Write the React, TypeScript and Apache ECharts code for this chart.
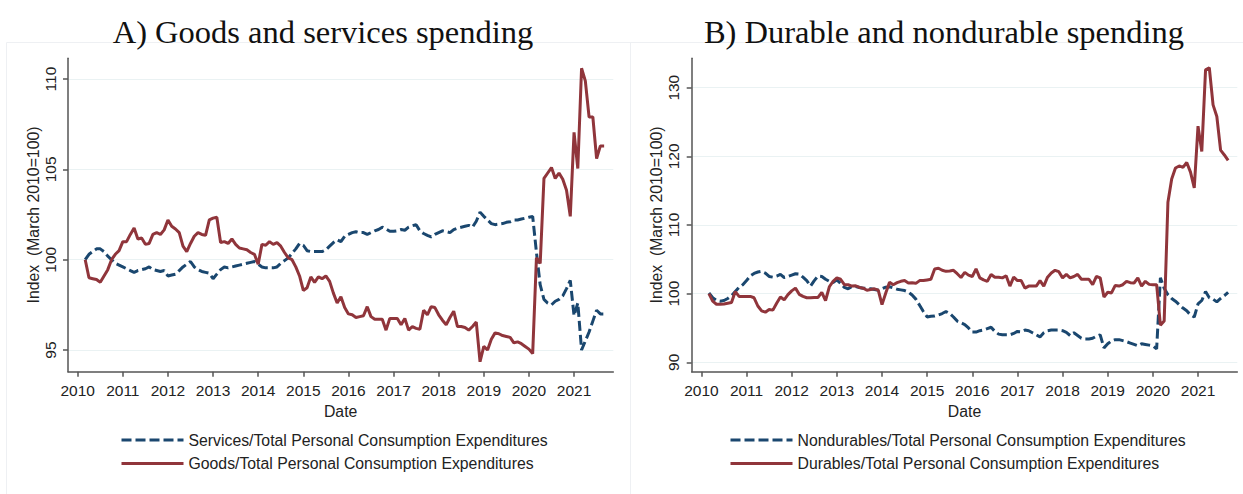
import React, { useEffect, useRef } from "react";
import * as echarts from "echarts";

// Monthly data, March 2010 to September 2021 (index, March 2010 = 100)
const START_YEAR = 2010;
const START_MONTH = 3;

const yearTicks = [2010, 2011, 2012, 2013, 2014, 2015, 2016, 2017, 2018, 2019, 2020, 2021];
const leftYTicks = [95, 100, 105, 110];
const rightYTicks = [90, 100, 110, 120, 130];

const services = [
  100.0, 100.3, 100.45, 100.6, 100.6, 100.45, 100.2, 100.0, 99.8, 99.7,
  99.6, 99.5, 99.4, 99.3, 99.4, 99.45, 99.5, 99.6, 99.45, 99.4, 99.35, 99.4,
  99.1, 99.15, 99.2, 99.4, 99.6, 99.75, 99.9, 99.6, 99.45, 99.35, 99.3, 99.25,
  98.95, 99.2, 99.45, 99.6, 99.55, 99.6, 99.65, 99.7, 99.75, 99.8, 99.85, 99.9,
  99.75, 99.6, 99.55, 99.55, 99.55, 99.6, 99.8, 99.95, 100.1, 100.35, 100.6, 100.9,
  100.8, 100.5, 100.45, 100.45, 100.45, 100.45, 100.55, 100.75, 100.95, 101.1, 101.0, 101.3,
  101.4, 101.5, 101.55, 101.5, 101.5, 101.4, 101.5, 101.6, 101.67, 101.8, 101.7, 101.57,
  101.57, 101.6, 101.67, 101.63, 101.8, 101.88, 101.94, 101.6, 101.45, 101.35, 101.26, 101.4,
  101.5, 101.6, 101.55, 101.5, 101.67, 101.75, 101.8, 101.85, 101.9, 101.8, 102.13, 102.63,
  102.4, 102.2, 102.0, 101.94, 101.97, 102.0, 102.07, 102.1, 102.2, 102.2, 102.25, 102.3,
  102.35, 102.4, 100.4, 98.6, 97.8, 97.6, 97.5, 97.7, 97.8, 98.0, 98.4, 98.85,
  96.9, 97.6, 95.0, 95.5, 96.0, 96.6, 97.2, 97.0, 97.0,
];

const goods = [
  100.0, 99.0, 98.95, 98.9, 98.75, 99.1, 99.45, 100.0, 100.3, 100.5,
  101.0, 101.0, 101.4, 101.75, 101.15, 101.2, 100.85, 100.9, 101.4, 101.5, 101.4, 101.65,
  102.2, 101.85, 101.7, 101.5, 100.75, 100.45, 100.9, 101.3, 101.5, 101.4, 101.35, 102.2,
  102.3, 102.35, 100.95, 101.0, 100.9, 101.15, 100.85, 100.65, 100.6, 100.55, 100.4, 100.3,
  99.75, 100.85, 100.8, 101.0, 100.85, 100.95, 100.75, 100.4, 100.1, 100.0, 99.6, 99.1,
  98.3, 98.45, 99.05, 98.75, 99.05, 98.95, 99.1, 98.8, 98.15, 97.6, 97.95, 97.35,
  97.0, 96.95, 96.8, 96.85, 96.9, 97.4, 96.85, 96.7, 96.7, 96.7, 96.1, 96.75,
  96.75, 96.75, 96.4, 96.75, 96.1, 96.3, 96.2, 96.15, 97.2, 96.95, 97.4, 97.35,
  96.95, 96.65, 96.4, 96.8, 97.15, 96.3, 96.3, 96.25, 96.1, 96.3, 96.55, 94.35,
  95.2, 95.0, 95.6, 95.95, 95.9, 95.8, 95.75, 95.7, 95.4, 95.45, 95.35, 95.2,
  95.05, 94.8, 100.1, 99.8, 104.5, 104.8, 105.1, 104.5, 104.8, 104.45, 103.85, 102.4,
  107.05, 105.05, 110.6, 109.9, 107.9, 107.9, 105.6, 106.3, 106.3,
];

const nondurables = [
  100.1, 99.4, 99.0, 98.9, 99.0, 99.3, 99.7, 100.3, 100.9, 101.3,
  101.9, 102.6, 102.95, 103.15, 103.25, 103.0, 102.5, 102.4, 102.55, 102.8, 102.35, 102.5,
  102.7, 102.9, 102.85, 102.4, 101.9, 101.1, 101.9, 102.55, 102.5, 102.1, 101.8, 101.6,
  102.0, 101.5, 100.9, 100.7, 101.05, 101.05, 100.9, 100.8, 100.75, 100.7, 100.6, 100.5,
  100.7, 100.95, 101.0, 100.85, 100.65, 100.55, 100.45, 100.25, 99.8, 99.2, 98.3, 97.4,
  96.6, 96.7, 96.75, 96.9, 97.1, 97.4, 97.1, 96.6, 96.0, 95.75, 95.5, 95.0,
  94.4, 94.4, 94.6, 94.7, 94.9, 95.1, 94.5, 94.1, 94.0, 94.0, 94.0, 94.2,
  94.5, 94.45, 94.7, 94.6, 94.3, 94.0, 93.7, 94.3, 94.6, 94.7, 94.7, 94.7,
  94.6, 94.35, 93.9, 94.3, 93.9, 93.5, 93.4, 93.4, 93.5, 93.8, 94.0, 92.1,
  92.7, 93.1, 93.3, 93.3, 93.15, 93.0, 92.8, 92.6, 92.4, 92.7, 92.6, 92.5,
  92.4, 91.95, 102.3, 100.8, 99.85, 99.3, 98.9, 98.4, 97.9, 97.5, 96.9, 96.6,
  98.5, 99.0, 100.3, 99.4, 99.2, 98.8, 99.3, 99.7, 100.2,
];

const durables = [
  100.0, 98.9, 98.45, 98.45, 98.5, 98.6, 98.7, 100.3, 99.6, 99.6,
  99.6, 99.6, 99.4, 98.2, 97.5, 97.3, 97.7, 97.6, 98.6, 99.5, 99.1, 99.85,
  100.4, 100.8, 99.9, 99.6, 99.4, 99.4, 99.45, 99.45, 100.2, 99.0, 101.0, 101.8,
  102.3, 102.1, 101.3, 101.3, 101.1, 101.15, 100.9, 100.8, 100.5, 100.6, 100.7, 100.5,
  98.4, 100.1, 101.65, 101.3, 101.6, 101.8, 101.9, 101.55, 101.6, 101.5, 101.9, 101.9,
  102.0, 102.1, 103.6, 103.7, 103.4, 103.25, 103.3, 103.4, 102.9, 102.35, 103.1, 102.7,
  102.5, 103.6, 102.3, 102.0, 101.8, 102.8, 102.4, 102.4, 102.3, 102.6, 101.1, 102.4,
  101.9, 101.9, 100.8, 101.1, 101.1, 101.1, 101.9, 101.1, 102.4, 103.0, 103.4, 103.2,
  102.3, 102.8, 102.3, 102.5, 102.8, 102.1, 102.1, 102.1, 101.3, 102.5, 102.3, 99.5,
  100.2, 100.1, 101.2, 101.1, 101.3, 101.8, 101.6, 101.55, 102.3, 101.1, 101.8, 101.35,
  101.3, 101.3, 95.4, 96.0, 113.3, 116.7, 118.3, 118.6, 118.4, 119.1, 117.7, 115.4,
  124.4, 120.7, 132.6, 132.9, 127.5, 125.8, 120.9, 120.2, 119.4,
];

const NAVY = "#1a476f";
const MAROON = "#90353b";
const AXIS = "#555555";
const GRID = "#eaf2f3";
const TEXT = "#222222";
const SANS = "'Liberation Sans', Arial, sans-serif";
const SERIF = "'Liberation Serif', 'Times New Roman', serif";

function toPairs(values: number[]) {
  return values.map((v, i) => [START_YEAR + (START_MONTH - 1 + i) / 12, v]);
}

function xAxisDef(gridIndex: number) {
  return {
    type: "value",
    gridIndex,
    min: 2009.785,
    max: 2021.87,
    name: "Date",
    nameLocation: "middle",
    nameGap: 29,
    nameTextStyle: { color: TEXT, fontSize: 15.8, fontFamily: SANS },
    axisLine: { show: true, onZero: false, lineStyle: { color: AXIS, width: 1.5 } },
    axisTick: { show: true, length: 5, customValues: yearTicks, lineStyle: { color: AXIS, width: 1.5 } },
    axisLabel: {
      customValues: yearTicks,
      color: TEXT,
      fontSize: 15.5,
      fontFamily: SANS,
      margin: 11,
      formatter: (v: number) => String(Math.round(v)),
    },
    splitLine: { show: false },
  };
}

function yAxisDef(gridIndex: number, min: number, max: number, ticks: number[]) {
  return {
    type: "value",
    gridIndex,
    min,
    max,
    name: "Index  (March 2010=100)",
    nameLocation: "middle",
    nameRotate: 90,
    nameGap: 27,
    nameTextStyle: { color: TEXT, fontSize: 15.8, fontFamily: SANS },
    axisLine: { show: true, lineStyle: { color: AXIS, width: 1.5 } },
    axisTick: { show: true, length: 5, customValues: ticks, lineStyle: { color: AXIS, width: 1.5 } },
    axisLabel: {
      customValues: ticks,
      rotate: 90,
      color: TEXT,
      fontSize: 15.5,
      fontFamily: SANS,
      margin: 10,
    },
    splitLine: { show: true, lineStyle: { color: GRID, width: 1.2 } },
  };
}

function lineSeries(name: string, values: number[], idx: number, color: string, dashed: boolean) {
  return {
    type: "line",
    name,
    xAxisIndex: idx,
    yAxisIndex: idx,
    data: toPairs(values),
    symbol: "none",
    showSymbol: false,
    lineStyle: { color, width: 3, type: dashed ? [10, 4] : "solid" },
    itemStyle: { color },
    z: dashed ? 2 : 3,
  };
}

export default function App() {
  const ref = useRef<HTMLDivElement>(null);

  useEffect(() => {
    if (!ref.current) return;
    const chart = echarts.init(ref.current, undefined, { renderer: "svg" });
    const legendText = { color: TEXT, fontSize: 15.8, fontFamily: SANS };
    const legendCommon = {
      orient: "vertical",
      top: 432,
      padding: 0,
      itemWidth: 62,
      itemHeight: 14,
      itemGap: 7.5,
      textStyle: legendText,
      selectedMode: false,
      itemStyle: { color: "rgba(0,0,0,0)", borderWidth: 0, opacity: 0 },
      lineStyle: { width: 3 },
    };
    chart.setOption({
      animation: false,
      backgroundColor: "#ffffff",
      title: [
        {
          text: "A) Goods and services spending",
          left: 318,
          top: 10,
          textAlign: "center",
          textStyle: { fontFamily: SERIF, fontSize: 32.5, fontWeight: "normal", color: "#111" },
        },
        {
          text: "B) Durable and nondurable spending",
          left: 939,
          top: 10,
          textAlign: "center",
          textStyle: { fontFamily: SERIF, fontSize: 32.5, fontWeight: "normal", color: "#111" },
        },
      ],
      graphic: [
        { type: "line", shape: { x1: 6.5, y1: 42.5, x2: 1243, y2: 42.5 }, style: { stroke: "#eef0f3", lineWidth: 1 }, silent: true },
        { type: "line", shape: { x1: 6.5, y1: 42.5, x2: 6.5, y2: 494 }, style: { stroke: "#eef0f3", lineWidth: 1 }, silent: true },
        { type: "line", shape: { x1: 630.5, y1: 42.5, x2: 630.5, y2: 494 }, style: { stroke: "#eef0f3", lineWidth: 1 }, silent: true },
      ],
      legend: [
        {
          ...legendCommon,
          data: ["Services/Total Personal Consumption Expenditures", "Goods/Total Personal Consumption Expenditures"],
          left: 120,
        },
        {
          ...legendCommon,
          data: ["Nondurables/Total Personal Consumption Expenditures", "Durables/Total Personal Consumption Expenditures"],
          left: 729,
        },
      ],
      grid: [
        { left: 68, top: 58.3, width: 545.3, height: 313.4, containLabel: false },
        { left: 691.7, top: 58.3, width: 545.6, height: 313.4, containLabel: false },
      ],
      xAxis: [xAxisDef(0), xAxisDef(1)],
      yAxis: [yAxisDef(0, 93.8, 111.15, leftYTicks), yAxisDef(1, 88.63, 134.28, rightYTicks)],
      series: [
        lineSeries("Services/Total Personal Consumption Expenditures", services, 0, NAVY, true),
        lineSeries("Goods/Total Personal Consumption Expenditures", goods, 0, MAROON, false),
        lineSeries("Nondurables/Total Personal Consumption Expenditures", nondurables, 1, NAVY, true),
        lineSeries("Durables/Total Personal Consumption Expenditures", durables, 1, MAROON, false),
      ],
    });
    return () => chart.dispose();
  }, []);

  return (
    <div
      ref={ref}
      style={{ position: "fixed", left: 0, top: 0, width: 1243, height: 494, background: "#fff" }}
    />
  );
}
